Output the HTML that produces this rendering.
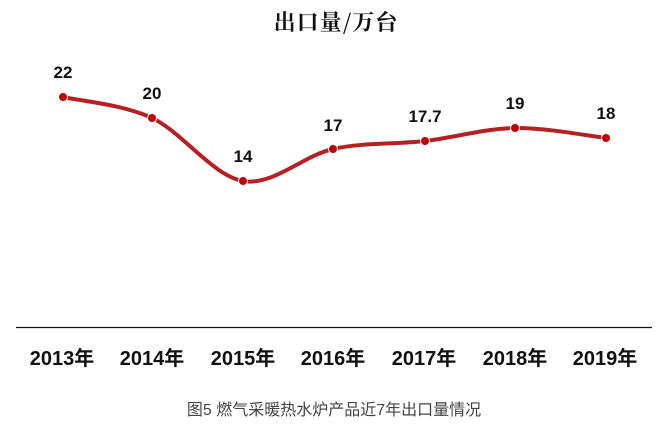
<!DOCTYPE html>
<html><head><meta charset="utf-8"><style>
html,body{margin:0;padding:0;background:#fff;}
svg{display:block;}
</style></head><body>
<svg width="672" height="445" viewBox="0 0 672 445" xmlns="http://www.w3.org/2000/svg">
<text x="336" y="30" text-anchor="middle" font-family="'Noto Serif CJK SC','Liberation Serif',serif" font-size="22" font-weight="bold" fill="#111" letter-spacing="1">出口量/万台</text>
<path d="M63,97 C77.8,100.5 122,104 152,118 C182,132 212.8,175.8 243,181 C273.2,186.2 302.7,155.7 333,149 C363.3,142.3 394.7,144.5 425,141 C455.3,137.5 484.8,128.5 515,128 C545.2,127.5 590.8,136.3 606,138" fill="none" stroke="#b52025" stroke-width="4" stroke-linecap="round"/>
<g fill="#c00000" stroke="#fff" stroke-width="1">
<circle cx="63" cy="97" r="4.5"/><circle cx="152" cy="118" r="4.5"/><circle cx="243" cy="181" r="4.5"/><circle cx="333" cy="149" r="4.5"/><circle cx="425" cy="141" r="4.5"/><circle cx="515" cy="128" r="4.5"/><circle cx="606" cy="138" r="4.5"/>
</g>
<g font-family="'Liberation Sans',sans-serif" font-size="17" font-weight="bold" fill="#111" text-anchor="middle">
<text x="63" y="78">22</text><text x="152" y="99">20</text><text x="243" y="162">14</text><text x="333" y="131">17</text><text x="425" y="122">17.7</text><text x="515" y="109">19</text><text x="606" y="119">18</text>
</g>
<line x1="16" y1="327.5" x2="652" y2="327.5" stroke="#111" stroke-width="1.3"/>
<g font-family="'Liberation Sans','Noto Sans CJK SC',sans-serif" font-size="20" font-weight="bold" fill="#111" text-anchor="middle">
<text x="62" y="365">2013年</text><text x="152" y="365">2014年</text><text x="243" y="365">2015年</text><text x="333" y="365">2016年</text><text x="424" y="365">2017年</text><text x="515" y="365">2018年</text><text x="605" y="365">2019年</text>
</g>
<text x="334" y="415" text-anchor="middle" font-family="'Liberation Sans','Noto Sans CJK SC',sans-serif" font-size="16" fill="#444">图5 燃气采暖热水炉产品近7年出口量情况</text>
</svg>
</body></html>
